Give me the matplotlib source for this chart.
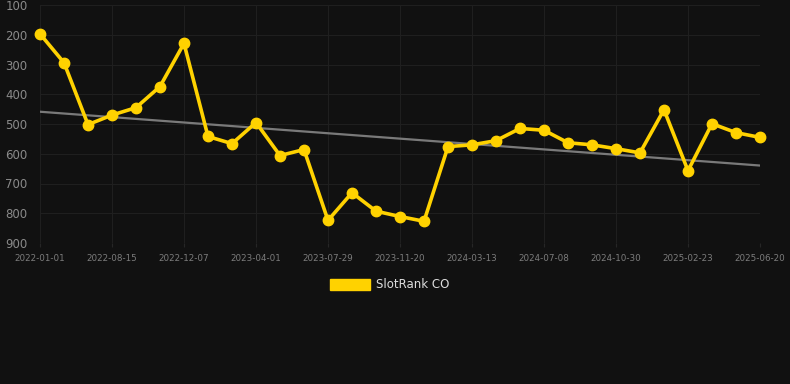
import numpy as np
import matplotlib
matplotlib.use('Agg')
import matplotlib.pyplot as plt
from matplotlib.patches import Patch

# Rank values (lower = better), one point per sample
ranks = [197, 294, 502, 470, 445, 374, 229, 542, 566, 495, 606,
         586, 824, 731, 793, 811, 827, 576, 570, 556, 515, 521,
         563, 570, 583, 597, 452, 657, 499, 529, 545]
tick_labels = ['2022-01-01', '2022-08-15', '2022-12-07', '2023-04-01',
               '2023-07-29', '2023-11-20', '2024-03-13', '2024-07-08',
               '2024-10-30', '2025-02-23', '2025-06-20']
y_ticks = [100, 200, 300, 400, 500, 600, 700, 800, 900]

bg = '#111111'
gold = '#FFD200'
x = np.arange(len(ranks))

fig = plt.figure(figsize=(7.9, 3.84), dpi=100, facecolor=bg)
ax = fig.add_axes([40 / 790, 1 - 243 / 384, 720 / 790, 238 / 384])
ax.set_facecolor(bg)

# trend line (least squares)
k, b = np.polyfit(x, ranks, 1)
ax.plot(x, k * x + b, color='#7a7a7a', linewidth=1.6, zorder=2)

ax.plot(x, ranks, color=gold, linewidth=2.6, marker='o', markersize=7.5,
        clip_on=False, zorder=3)

ax.set_xlim(0, len(ranks) - 1)
ax.set_ylim(900, 100)
ax.set_yticks(y_ticks)
ax.set_xticks(x[::3])
ax.set_xticklabels(tick_labels)

ax.grid(True, color='#1f1f1f', linewidth=0.8)
for s in ax.spines.values():
    s.set_visible(False)
ax.tick_params(axis='y', length=0, colors='#8a8a8a', labelsize=8.5, pad=9)
ax.tick_params(axis='x', length=3, color='#262626', colors='#7c7c7c',
               labelsize=6.3, pad=5)

fig.legend(handles=[Patch(color=gold, label='SlotRank CO')],
           loc='center', bbox_to_anchor=(390 / 790, 1 - 285 / 384),
           frameon=False, fontsize=8.5, labelcolor='#dddddd',
           handlelength=3.4, handleheight=1.0, handletextpad=0.5)

fig.savefig('out.png', dpi=100, facecolor=bg)
